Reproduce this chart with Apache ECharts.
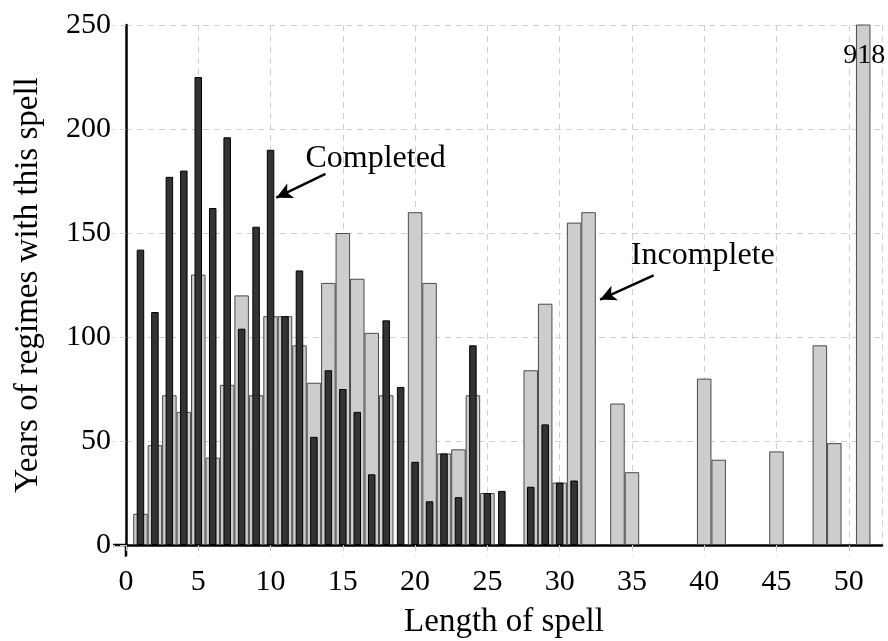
<!DOCTYPE html>
<html>
<head>
<meta charset="utf-8">
<script src="https://cdn.jsdelivr.net/npm/echarts@6/dist/echarts.min.js"></script>
<style>
  html, body { margin: 0; padding: 0; background: #fff; }
  #main { width: 888px; height: 641px; }
</style>
</head>
<body>
<div id="main"></div>
<script>
// spell lengths and years of regimes
var completedLen   = [1, 2, 3, 4, 5, 6, 7, 8, 9, 10, 11, 12, 13, 14, 15, 16, 17, 18, 19, 20, 21, 22, 23, 24, 25, 26, 28, 29, 30, 31];
var completedYears = [142, 112, 177, 180, 225, 162, 196, 104, 153, 190, 110, 132, 52, 84, 75, 64, 34, 108, 76, 40, 21, 44, 23, 96, 25, 26, 28, 58, 30, 31];

var incompleteLen   = [1, 2, 3, 4, 5, 6, 7, 8, 9, 10, 11, 12, 13, 14, 15, 16, 17, 18, 20, 21, 22, 23, 24, 25, 28, 29, 30, 31, 32, 34, 35, 40, 41, 45, 48, 49, 51];
var incompleteYears = [15, 48, 72, 64, 130, 42, 77, 120, 72, 110, 110, 96, 78, 126, 150, 128, 102, 72, 160, 126, 44, 46, 72, 25, 84, 116, 30, 155, 160, 68, 35, 80, 41, 45, 96, 49, 918];

var xTicks = [0, 5, 10, 15, 20, 25, 30, 35, 40, 45, 50];
var yTicks = [0, 50, 100, 150, 200, 250];

var X_MAX = 52.3;
var Y_MAX = 250;
var FONT = '"Liberation Serif", "Times New Roman", serif';

function pairs(xs, ys) {
  return xs.map(function (x, i) {
    var item = { value: [x, ys[i]] };
    if (ys[i] > Y_MAX) {
      // off-scale bar: print its real value
      item.label = {
        show: true, position: 'insideTop', offset: [1, 12],
        formatter: function (p) { return p.value[1]; },
        fontFamily: FONT, fontSize: 28, color: '#000'
      };
    }
    return item;
  });
}

var gridDash = { color: '#cfcfcf', width: 1, type: [6, 5] };

function xAxisDef(show) {
  return {
    type: 'value', min: 0, max: X_MAX, interval: 5, show: show,
    name: show ? 'Length of spell' : '', nameLocation: 'middle', nameGap: 61,
    nameTextStyle: { fontFamily: FONT, fontSize: 33, color: '#000' },
    axisLine: { show: true, onZero: false, lineStyle: { color: '#000', width: 2.5 } },
    axisTick: { show: true, length: 12, lineStyle: gridDash },
    axisLabel: {
      fontFamily: FONT, fontSize: 30, color: '#000', margin: 22, showMaxLabel: false,
      formatter: function (v) { return xTicks.indexOf(v) >= 0 ? v : ''; }
    },
    splitLine: { show: show, lineStyle: gridDash }
  };
}

var chart = echarts.init(document.getElementById('main'));

var option = {
  animation: false,
  backgroundColor: '#fff',
  grid: { left: 126, right: 6, top: 25, bottom: 96, outerBoundsMode: 'none', containLabel: false },
  xAxis: [xAxisDef(true), xAxisDef(false)],
  yAxis: {
    type: 'value', min: 0, max: Y_MAX, interval: 50,
    name: 'Years of regimes with this spell', nameLocation: 'middle', nameGap: 81,
    nameTextStyle: { fontFamily: FONT, fontSize: 33, color: '#000' },
    axisLine: { show: true, lineStyle: { color: '#000', width: 2.5 } },
    axisTick: { show: true, length: 13, lineStyle: gridDash },
    axisLabel: {
      fontFamily: FONT, fontSize: 30, color: '#000', margin: 15,
      formatter: function (v) { return yTicks.indexOf(v) >= 0 ? v : ''; }
    },
    splitLine: { show: true, lineStyle: gridDash }
  },
  series: [
    {
      name: 'Incomplete', type: 'bar', xAxisIndex: 0,
      barWidth: 14.5, clip: true,
      itemStyle: { color: '#cdcdcd', borderColor: '#4a4a4a', borderWidth: 1 },
      data: pairs(incompleteLen, incompleteYears),
      markPoint: {
        silent: true, symbol: 'circle', symbolSize: 1,
        itemStyle: { color: 'rgba(0,0,0,0)' },
        label: { show: true, position: 'inside', formatter: '{b}', fontFamily: FONT, fontSize: 32, color: '#000' },
        data: [{ name: 'Incomplete', coord: [39.9, 139] }]
      },
      markLine: {
        silent: true, symbol: ['none', 'arrow'], symbolSize: [12, 16],
        label: { show: false },
        lineStyle: { color: '#000', width: 2.5, type: 'solid' },
        data: [[{ coord: [36.5, 129.6] }, { coord: [32.8, 118] }]]
      }
    },
    {
      name: 'Completed', type: 'bar', xAxisIndex: 1,
      barWidth: 7.5, clip: true,
      itemStyle: { color: '#333333', borderColor: '#000', borderWidth: 1 },
      data: pairs(completedLen, completedYears),
      markPoint: {
        silent: true, symbol: 'circle', symbolSize: 1,
        itemStyle: { color: 'rgba(0,0,0,0)' },
        label: { show: true, position: 'inside', formatter: '{b}', fontFamily: FONT, fontSize: 32, color: '#000' },
        data: [{ name: 'Completed', coord: [17.27, 186] }]
      },
      markLine: {
        silent: true, symbol: ['none', 'arrow'], symbolSize: [12, 16],
        label: { show: false },
        lineStyle: { color: '#000', width: 2.5, type: 'solid' },
        data: [[{ coord: [13.8, 178.4] }, { coord: [10.4, 167] }]]
      }
    }
  ]
};

chart.setOption(option);

// little overshoot of both axis lines past the origin, like the original
var o = chart.convertToPixel({ xAxisIndex: 0, yAxisIndex: 0 }, [0, 0]);
var top = chart.convertToPixel({ xAxisIndex: 0, yAxisIndex: 0 }, [0, Y_MAX]);
var axisStroke = { stroke: '#000', lineWidth: 2.5 };
chart.setOption({
  graphic: [
    { type: 'line', shape: { x1: o[0] - 13, y1: o[1], x2: o[0], y2: o[1] }, style: axisStroke, silent: true },
    { type: 'line', shape: { x1: o[0], y1: o[1], x2: o[0], y2: o[1] + 12 }, style: axisStroke, silent: true },
    { type: 'line', shape: { x1: o[0], y1: top[1] - 14, x2: o[0], y2: top[1] }, style: axisStroke, silent: true }
  ]
});
</script>
</body>
</html>
